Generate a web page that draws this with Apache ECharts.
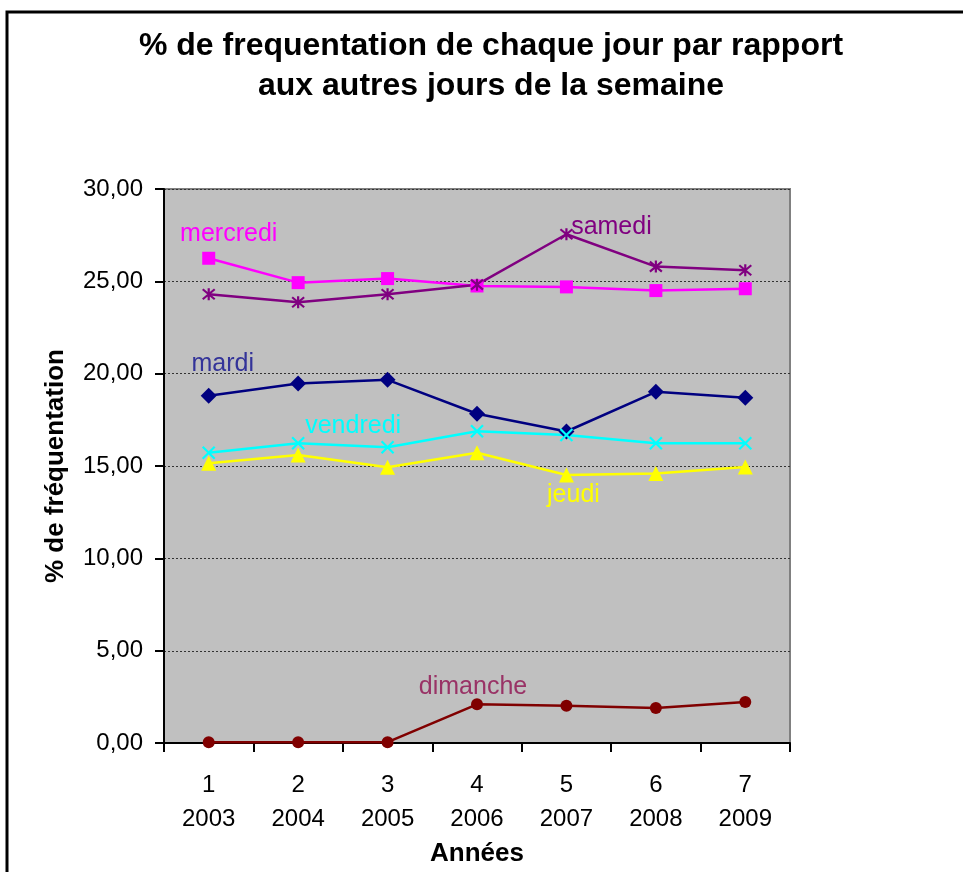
<!DOCTYPE html>
<html>
<head>
<meta charset="utf-8">
<script src="https://cdn.jsdelivr.net/npm/echarts@6/dist/echarts.min.js"></script>
<style>
html,body{margin:0;padding:0;background:#fff;}
#chart{width:963px;height:872px;}
</style>
</head>
<body>
<div id="chart"></div>
<script>
var categories = ['1','2','3','4','5','6','7'];
var years = ['2003','2004','2005','2006','2007','2008','2009'];
var yTicks = [0,5,10,15,20,25,30];

var mardi    = [18.81, 19.47, 19.67, 17.83, 16.87, 19.02, 18.70];
var mercredi = [26.25, 24.93, 25.15, 24.75, 24.70, 24.50, 24.60];
var jeudi    = [15.15, 15.60, 14.93, 15.72, 14.52, 14.60, 14.95];
var vendredi = [15.72, 16.23, 16.02, 16.88, 16.68, 16.23, 16.23];
var samedi   = [24.30, 23.87, 24.30, 24.82, 27.55, 25.80, 25.60];
var dimanche = [0.05, 0.05, 0.05, 2.10, 2.02, 1.90, 2.22];

var FONT = '"Liberation Sans", Arial, sans-serif';

function mkSeries(name, values, color, symbol, size, labelIdx, offset, labelColor, stroke) {
  return {
    name: name,
    type: 'line',
    data: values.map(function (v, i) {
      var d = { value: v };
      if (i === labelIdx) {
        d.label = {
          show: true, position: 'inside', offset: offset,
          formatter: name, color: labelColor,
          fontFamily: FONT, fontSize: 25
        };
      }
      return d;
    }),
    symbol: symbol,
    symbolSize: size,
    showSymbol: true,
    lineStyle: { color: color, width: 2.5 },
    itemStyle: stroke ? { color: 'none', borderColor: color, borderWidth: 2.2 } : { color: color, borderWidth: 0 },
    label: { show: false },
    emphasis: { disabled: true },
    z: 3
  };
}

var chart = echarts.init(document.getElementById('chart'), null, { renderer: 'canvas' });
chart.setOption({
  animation: false,
  backgroundColor: '#ffffff',
  graphic: [
    { type: 'rect', shape: { x: 7, y: 12, width: 1200, height: 1200 },
      style: { fill: 'none', stroke: '#000', lineWidth: 3 }, z: 0 },
    { type: 'text', x: 491, y: 26,
      style: { text: '% de frequentation de chaque jour par rapport\naux autres jours de la semaine',
        font: 'bold 32px "Liberation Sans", Arial, sans-serif', fill: '#000',
        textAlign: 'center', lineHeight: 40 } }
  ],
  grid: { left: 164, top: 189, width: 626, height: 558, show: true,
    backgroundColor: '#C0C0C0', borderColor: '#808080', borderWidth: 2 },
  xAxis: {
    type: 'category', boundaryGap: true,
    data: categories.map(function (c, i) { return c + '\n' + years[i]; }),
    name: 'Années', nameLocation: 'middle', nameGap: 91,
    nameTextStyle: { fontFamily: FONT, fontWeight: 'bold', fontSize: 26, color: '#000' },
    axisLine: { lineStyle: { color: '#000', width: 2 } },
    axisTick: { show: true, inside: false, length: 9, interval: 0, lineStyle: { color: '#000', width: 2 } },
    axisLabel: { fontFamily: FONT, fontSize: 24, color: '#000', lineHeight: 34, margin: 25, interval: 0 },
    splitLine: { show: false }
  },
  yAxis: {
    type: 'value', min: 0, max: 30, interval: 5,
    name: '% de fréquentation', nameLocation: 'middle', nameGap: 95, nameRotate: 90,
    nameTextStyle: { fontFamily: FONT, fontWeight: 'bold', fontSize: 26, color: '#000' },
    axisLine: { show: true, lineStyle: { color: '#000', width: 2 } },
    axisTick: { show: true, inside: false, length: 9, lineStyle: { color: '#000', width: 2 } },
    axisLabel: { fontFamily: FONT, fontSize: 24, color: '#000', margin: 21,
      formatter: function (v) { return v.toFixed(2).replace('.', ','); } },
    splitLine: { show: true, lineStyle: { color: '#333', width: 1, type: [2, 2] } }
  },
  series: [
    mkSeries('mardi', mardi, '#000080', 'diamond', 16, 0, [14, -32], '#333399', false),
    mkSeries('mercredi', mercredi, '#FF00FF', 'rect', 13, 0, [20, -24], '#FF00FF', false),
    mkSeries('jeudi', jeudi, '#FFFF00', 'triangle', 15, 4, [7, 20], '#FFFF00', false),
    mkSeries('vendredi', vendredi, '#00FFFF', 'path://M0,0L10,10M10,0L0,10', 12, 1, [55, -17], '#00FFFF', true),
    mkSeries('samedi', samedi, '#800080', 'path://M0,0L10,10M10,0L0,10M5,-1L5,11', 12, 4, [45, -7], '#800080', true),
    mkSeries('dimanche', dimanche, '#800000', 'circle', 12, 3, [-4, -17], '#993366', false)
  ]
});
</script>
</body>
</html>
